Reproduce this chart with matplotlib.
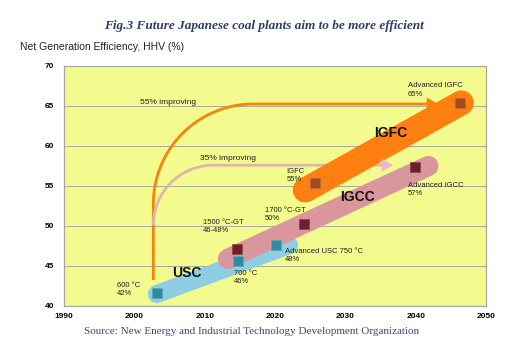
import numpy as np
import matplotlib
matplotlib.use("Agg")
import matplotlib.pyplot as plt

# ---------------- data ----------------
x_ticks = [1990, 2000, 2010, 2020, 2030, 2040, 2050]
y_ticks = [40, 45, 50, 55, 60, 65, 70]

# technology bands (start/end year, start/end efficiency)
band_names = ["USC", "IGCC", "IGFC"]
band_x = [[2003.2, 2022.0], [2013.3, 2041.8], [2024.3, 2046.5]]
band_y = [[41.5, 47.6], [45.9, 57.5], [54.5, 65.4]]
band_colors = ["#8ecde2", "#d9979d", "#ff7f10"]
band_widths = [13, 14.5, 18]

# milestone points
usc_years = [2003.2, 2014.7, 2020.2]
usc_eff = [41.6, 45.6, 47.6]
igcc_years = [2014.6, 2024.1, 2039.9]
igcc_eff = [47.1, 50.25, 57.4]
igfc_years = [2025.7, 2046.3]
igfc_eff = [55.4, 65.4]

point_labels = ["600 °C\n42%", "700 °C\n46%", "Advanced USC 750 °C\n48%",
                "1500 °C-GT\n46-48%", "1700 °C-GT\n50%", "Advanced IGCC\n57%",
                "IGFC\n55%", "Advanced IGFC\n65%"]
label_x = [1997.5, 2014.2, 2021.4, 2009.8, 2018.6, 2038.9, 2021.6, 2038.9]
label_y = [42.1, 43.6, 46.3, 49.9, 51.4, 54.6, 56.3, 67.0]

band_label_x = [2007.5, 2031.7, 2036.4]
band_label_y = [44.1, 53.6, 61.6]

# improvement arrows: start point, level reached, arrow tip year
arrow_texts = ["55% improving", "35% improving"]
arrow_start_x = [2002.7, 2002.7]
arrow_start_y = [43.25, 50.1]
arrow_level = [65.25, 57.6]
arrow_tip_x = [2043.2, 2036.8]
arrow_radius_px = [100, 60]
arrow_line_colors = ["#f7820c", "#dcb7ac"]
arrow_head_colors = ["#f7820c", "#eab8c6"]
arrow_text_x = [2000.8, 2009.3]
arrow_text_y = [65.4, 58.5]

# ---------------- figure ----------------
W, H = 528, 350
fig = plt.figure(figsize=(W / 100, H / 100), dpi=100)
fig.patch.set_facecolor("white")
ax = fig.add_axes([64 / W, 1 - 306 / H, (486 - 64) / W, (306 - 66) / H])
ax.set_facecolor("#f3fa8e")
ax.set_xlim(1990, 2050)
ax.set_ylim(40, 70)
ax.set_xticks(x_ticks)
ax.set_yticks(y_ticks)
ax.set_xticklabels([str(v) for v in x_ticks], fontsize=6, fontweight="bold",
                   family="Liberation Sans")
ax.set_yticklabels([str(v) for v in y_ticks], fontsize=6, fontweight="bold",
                   family="Liberation Sans")
ax.tick_params(length=0, pad=5)
ax.tick_params(axis="y", pad=7)
for s in ax.spines.values():
    s.set_color("#a8a8a0")
    s.set_linewidth(0.9)
for v in y_ticks[1:-1]:
    ax.axhline(v, color="#a9a9a0", lw=0.7, zorder=1)

# pixel scale (data units per px)
xpp = 60 / (486 - 64)
ypp = 30 / (306 - 66)

# arrows
for i in range(2):
    r = arrow_radius_px[i]
    rx, ry = r * xpp, r * ypp
    x0, y0 = arrow_start_x[i], arrow_start_y[i]
    lev = arrow_level[i]
    cy = lev - ry
    cx = x0 + rx
    xs = [x0, x0]
    ys = [y0, cy]
    t = np.linspace(np.pi, np.pi / 2, 40)
    xs += list(cx + rx * np.cos(t))
    ys += list(cy + ry * np.sin(t))
    tipx = arrow_tip_x[i]
    xs += [tipx - 8 * xpp]
    ys += [lev]
    ax.plot(xs, ys, color=arrow_line_colors[i], lw=2.0, zorder=2,
            solid_capstyle="butt")
    ax.annotate("", xy=(tipx, lev), xytext=(tipx - 9 * xpp, lev),
                arrowprops=dict(arrowstyle="-|>,head_length=0.75,head_width=0.42",
                                mutation_scale=10, color=arrow_head_colors[i],
                                lw=0.5, shrinkA=0, shrinkB=0),
                zorder=6)
    ax.text(arrow_text_x[i], arrow_text_y[i], arrow_texts[i], fontsize=6,
            family="Liberation Sans", va="center", ha="left", color="#222222",
            zorder=7)

# bands
for i in range(3):
    ax.plot(band_x[i], band_y[i], color=band_colors[i], lw=band_widths[i],
            solid_capstyle="round", zorder=3 + i * 0.1)

# markers
ax.plot(usc_years, usc_eff, "s", ms=7, mfc="#2e8ba2", mec="#5aa9bb", mew=0.6,
        zorder=5)
ax.plot(igcc_years, igcc_eff, "s", ms=7, mfc="#6e1f2b", mec="#8a4a52", mew=0.6,
        zorder=5)
ax.plot(igfc_years, igfc_eff, "s", ms=7, mfc="#a44a1e", mec="#b8673f", mew=0.6,
        zorder=5)

# labels
for lbl, lx, ly in zip(point_labels, label_x, label_y):
    ax.text(lx, ly, lbl, fontsize=5.5, family="Liberation Sans", ha="left",
            va="center", color="#222222", linespacing=1.25, zorder=7)
for lbl, lx, ly in zip(band_names, band_label_x, band_label_y):
    ax.text(lx, ly, lbl, fontsize=10, fontweight="bold", family="Liberation Sans",
            ha="center", va="center", color="#111111", zorder=7)

# titles
fig.text(0.5, 1 - 26 / H, "Fig.3 Future Japanese coal plants aim to be more efficient",
         ha="center", va="center", fontsize=9.5, fontweight="bold", style="italic",
         family="Liberation Serif", color="#2c3d6a")
fig.text(20 / W, 1 - 47 / H, "Net Generation Efficiency, HHV (%)", ha="left",
         va="center", fontsize=7.5, family="Liberation Sans", color="#222222")
fig.text(252 / W, 1 - 332 / H,
         "Source: New Energy and Industrial Technology Development Organization",
         ha="center", va="center", fontsize=8, family="Liberation Serif",
         color="#3a4872")

fig.savefig("out.png", dpi=100)
